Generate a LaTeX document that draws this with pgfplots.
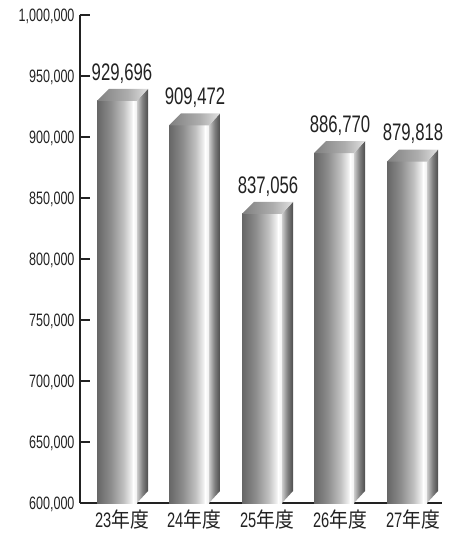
\documentclass[border=0pt]{standalone}
\usepackage{pgfplots}
\pgfplotsset{compat=1.18}
\usepackage{fontspec}
\setmainfont[FakeStretch=0.70]{Liberation Sans}
\newfontfamily\cjk[FakeStretch=0.90]{Noto Sans CJK JP}
\definecolor{ax}{HTML}{222222}
\pgfdeclarehorizontalshading{barfront}{100bp}{
 color(0bp)=(black!60);
 color(25bp)=(black!60);
 color(42bp)=(black!45);
 color(58bp)=(black!25);
 color(68bp)=(black!6);
 color(70bp)=(white);
 color(75bp)=(black!6);
 color(100bp)=(black!6)}
\pgfdeclarehorizontalshading{barside}{100bp}{
 color(0bp)=(black!20);
 color(25bp)=(black!20);
 color(50bp)=(black!50);
 color(75bp)=(black!70);
 color(100bp)=(black!70)}
\pgfdeclarehorizontalshading{bartop}{100bp}{
 color(0bp)=(black!50);
 color(25bp)=(black!50);
 color(55bp)=(black!32);
 color(75bp)=(black!12);
 color(100bp)=(black!12)}
\pgfplotstableread{
x v l
122 929696 929,696
195 909472 909,472
268 837056 837,056
340 886770 886,770
413 879818 879,818
}\labels
\pgfplotsset{
 frontface/.style={draw=none,shade,shading=barfront,forget plot},
 sideface/.style={draw=none,shade,shading=barside,forget plot},
 topface/.style={draw=none,shade,shading=bartop,forget plot},
}
\begin{document}
\begin{tikzpicture}[x=1bp,y=1bp]
\useasboundingbox (-80,-32) rectangle (378,503);
\begin{axis}[
 scale only axis, width=362bp, height=488bp,
 xmin=80, xmax=442, ymin=600000, ymax=1000000,
 axis lines=left, axis line style={-,color=ax,line width=1.2bp},
 clip=false,
 scaled y ticks=false,
 xtick={122,194,267,340,413},
 xticklabels={{23\cjk 年度},{24\cjk 年度},{25\cjk 年度},{26\cjk 年度},{27\cjk 年度}},
 xtick style={draw=none},
 xticklabel style={font=\fontsize{21}{21}\selectfont,color=ax,yshift=-3bp},
 ytick={600000,650000,700000,750000,800000,850000,900000,950000,1000000},
 yticklabels={{600,000},{650,000},{700,000},{750,000},{800,000},{850,000},{900,000},{950,000},{1,000,000}},
 ytick style={color=ax,line width=1.2bp},
 tick align=inside,
 major tick length=10bp,
 yticklabel style={font=\fontsize{18}{18}\selectfont,color=ax,xshift=-2bp,yshift=-1bp},
]
\addplot[frontface] coordinates {(97,600000)(137,600000)(137,929696)(97,929696)};
\addplot[sideface] coordinates {(137,600000)(148,609836)(148,939532)(137,929696)};
\addplot[topface] coordinates {(97,929696)(137,929696)(148,939532)(109,939532)};
\addplot[frontface] coordinates {(169,600000)(209,600000)(209,909472)(169,909472)};
\addplot[sideface] coordinates {(209,600000)(220,609836)(220,919308)(209,909472)};
\addplot[topface] coordinates {(169,909472)(209,909472)(220,919308)(181,919308)};
\addplot[frontface] coordinates {(242,600000)(282,600000)(282,837056)(242,837056)};
\addplot[sideface] coordinates {(282,600000)(293,609836)(293,846892)(282,837056)};
\addplot[topface] coordinates {(242,837056)(282,837056)(293,846892)(254,846892)};
\addplot[frontface] coordinates {(314,600000)(354,600000)(354,886770)(314,886770)};
\addplot[sideface] coordinates {(354,600000)(365,609836)(365,896606)(354,886770)};
\addplot[topface] coordinates {(314,886770)(354,886770)(365,896606)(326,896606)};
\addplot[frontface] coordinates {(387,600000)(427,600000)(427,879818)(387,879818)};
\addplot[sideface] coordinates {(427,600000)(438,609836)(438,889654)(427,879818)};
\addplot[topface] coordinates {(387,879818)(427,879818)(438,889654)(399,889654)};
\addplot[draw=none,mark=none,forget plot,point meta=explicit symbolic,
 nodes near coords,
 nodes near coords align={anchor=south},
 every node near coord/.append style={font=\fontsize{24}{24}\selectfont,color=ax,inner sep=0pt,yshift=17.5bp},
] table[x=x,y=v,meta=l] {\labels};
\end{axis}
\end{tikzpicture}
\end{document}
